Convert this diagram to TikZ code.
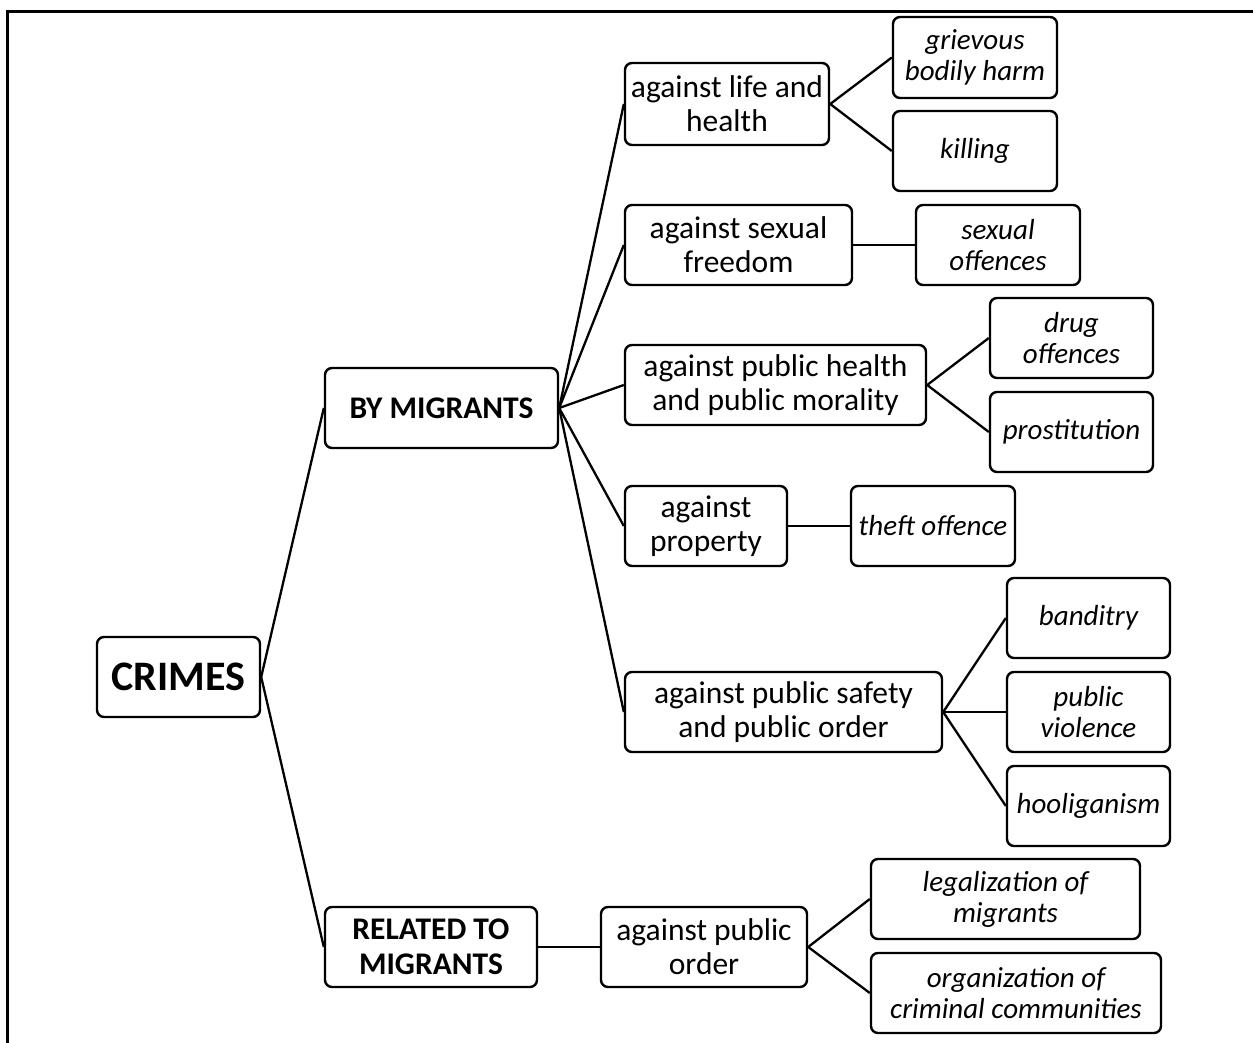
\documentclass[tikz,border=0pt]{standalone}
\usepackage{fontspec}
\setmainfont{Carlito}
\begin{document}
\begin{tikzpicture}[x=1pt,y=-1pt,
  box/.style={draw=black, line width=2.4pt, rounded corners=7pt, inner sep=0pt, align=center, fill=white},
  reg/.style={box, font=\fontsize{31.5}{34}\selectfont},
  bld/.style={box, font=\fontsize{31.5}{35}\selectfont\bfseries},
  itl/.style={box, font=\fontsize{29}{31}\selectfont\itshape},
  conn/.style={line width=2.3pt}]
\useasboundingbox (0,0) rectangle (1253,1043);
\fill[white] (0,0) rectangle (1253,1043);
\draw[line width=2.4pt] (7.5,1050) -- (7.5,11.5) -- (1260,11.5);

\node[box, font=\fontsize{42}{46}\selectfont\bfseries, minimum width=163pt, minimum height=80pt] (crimes) at (178.5,677) {CRIMES};
\node[bld, minimum width=233pt, minimum height=80pt] (bym) at (441.5,408) {BY MIGRANTS};
\node[bld, minimum width=212pt, minimum height=80pt] (rel) at (431,947) {RELATED TO\\MIGRANTS};

\node[reg, minimum width=204pt, minimum height=82pt] (life) at (727,104) {against life and\\health};
\node[itl, minimum width=164pt, minimum height=81pt] (gbh) at (975,57.5) {grievous\\bodily harm};
\node[itl, minimum width=164pt, minimum height=80pt] (kill) at (975,151) {killing};

\node[reg, minimum width=227pt, minimum height=80pt] (sex) at (738.5,245) {against sexual\\freedom};
\node[itl, minimum width=164pt, minimum height=80pt] (sexoff) at (998,245) {sexual\\offences};

\node[reg, minimum width=301pt, minimum height=80pt] (phealth) at (775.5,385) {against public health\\and public morality};
\node[itl, minimum width=163pt, minimum height=80pt] (drug) at (1071.5,338) {drug\\offences};
\node[itl, minimum width=163pt, minimum height=80pt] (prost) at (1071.5,432) {prostitution};

\node[reg, minimum width=162pt, minimum height=80pt] (prop) at (706,526) {against\\property};
\node[itl, minimum width=164pt, minimum height=80pt] (theft) at (933,526) {theft offence};

\node[reg, minimum width=317pt, minimum height=80pt] (psafety) at (783.5,712) {against public safety\\and public order};
\node[itl, minimum width=163pt, minimum height=80pt] (band) at (1088.5,618) {banditry};
\node[itl, minimum width=163pt, minimum height=80pt] (pviol) at (1088.5,712) {public\\violence};
\node[itl, minimum width=163pt, minimum height=80pt] (hool) at (1088.5,806) {hooliganism};

\node[reg, minimum width=206pt, minimum height=80pt] (porder) at (704,947) {against public\\order};
\node[itl, minimum width=269pt, minimum height=80pt] (legal) at (1005.5,899) {legalization of\\migrants};
\node[itl, minimum width=290pt, minimum height=80pt] (org) at (1016,993) {organization of\\criminal communities};

\foreach \a/\b in {crimes/bym, crimes/rel, bym/life, bym/sex, bym/phealth, bym/prop, bym/psafety,
  life/gbh, life/kill, sex/sexoff, phealth/drug, phealth/prost, prop/theft,
  psafety/band, psafety/pviol, psafety/hool, rel/porder, porder/legal, porder/org}
  \draw[conn] (\a.east) -- (\b.west);
\end{tikzpicture}
\end{document}
